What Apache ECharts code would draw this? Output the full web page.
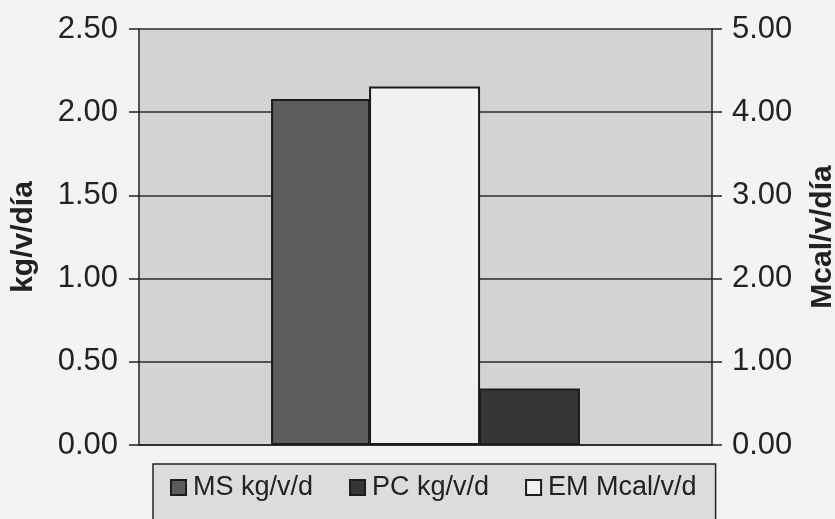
<!DOCTYPE html>
<html>
<head>
<meta charset="utf-8">
<script src="https://cdn.jsdelivr.net/npm/echarts@6/dist/echarts.min.js"></script>
<style>
  html, body { margin: 0; padding: 0; background: #f3f3f3; }
  #chart { width: 835px; height: 519px; }
</style>
</head>
<body>
<div id="chart"></div>
<script>
// Consumo diario por vaca
const categories = ['Consumo'];
const msKg = [2.08];      // materia seca, kg/v/d (eje izquierdo)
const emMcal = [4.31];    // energía metabolizable, Mcal/v/d (eje derecho)
const pcKg = [0.34];      // proteína cruda, kg/v/d (eje izquierdo)

const leftTicks = { min: 0, max: 2.5, interval: 0.5 };
const rightTicks = { min: 0, max: 5, interval: 1 };

const ink = '#222';
const chart = echarts.init(document.getElementById('chart'), null, { renderer: 'canvas' });

const tickLabel = {
  color: ink,
  fontFamily: 'Liberation Sans, Arial, sans-serif',
  fontSize: 31,
  formatter: v => v.toFixed(2)
};
const axisName = {
  color: ink,
  fontFamily: 'Liberation Sans, Arial, sans-serif',
  fontSize: 30,
  fontWeight: 'bold'
};

chart.setOption({
  backgroundColor: '#f3f3f3',
  animation: false,
  grid: {
    left: 139, top: 29, width: 573, height: 416,
    outerBoundsMode: 'none', containLabel: false,
    show: true, backgroundColor: '#d3d3d3', borderWidth: 0
  },
  legend: {
    data: ['MS kg/v/d', 'PC kg/v/d', 'EM Mcal/v/d'],
    left: 153, top: 464,
    padding: [10, 19, 40, 17],
    backgroundColor: '#dcdcdc',
    borderColor: ink, borderWidth: 1.5, borderRadius: 0,
    icon: 'rect', itemWidth: 15, itemHeight: 15, itemGap: 36,
    textStyle: { color: ink, fontFamily: 'Liberation Sans, Arial, sans-serif', fontSize: 27, padding: [0, 0, 0, 2] }
  },
  xAxis: {
    type: 'category',
    data: categories,
    axisLine: { show: true, lineStyle: { color: ink, width: 1.5 } },
    axisTick: { show: false },
    axisLabel: { show: false }
  },
  yAxis: [
    {
      type: 'value', position: 'left',
      min: leftTicks.min, max: leftTicks.max, interval: leftTicks.interval,
      name: 'kg/v/día', nameLocation: 'middle', nameRotate: 90, nameGap: 100,
      nameTextStyle: axisName,
      axisLine: { show: true, lineStyle: { color: ink, width: 1.5 } },
      axisTick: { show: true, length: 10, lineStyle: { color: ink, width: 1.5 } },
      axisLabel: Object.assign({ margin: 21 }, tickLabel),
      splitLine: { show: true, lineStyle: { color: '#2a2a2a', width: 1.5 } }
    },
    {
      type: 'value', position: 'right',
      min: rightTicks.min, max: rightTicks.max, interval: rightTicks.interval,
      name: 'Mcal/v/día', nameLocation: 'middle', nameRotate: 90, nameGap: 96,
      nameTextStyle: axisName,
      axisLine: { show: true, lineStyle: { color: ink, width: 1.5 } },
      axisTick: { show: true, length: 10, lineStyle: { color: ink, width: 1.5 } },
      axisLabel: Object.assign({ margin: 20 }, tickLabel),
      splitLine: { show: false }
    }
  ],
  series: [
    {
      name: 'MS kg/v/d', type: 'bar', yAxisIndex: 0, data: msKg,
      barWidth: 99, barGap: '-1%',
      itemStyle: { color: '#5c5c5c', borderColor: '#1c1c1c', borderWidth: 2 }
    },
    {
      name: 'EM Mcal/v/d', type: 'bar', yAxisIndex: 1, data: emMcal,
      barWidth: 111, barGap: '-1%',
      itemStyle: { color: '#f1f1f1', borderColor: '#1c1c1c', borderWidth: 2 }
    },
    {
      name: 'PC kg/v/d', type: 'bar', yAxisIndex: 0, data: pcKg,
      barWidth: 101, barGap: '-1%',
      itemStyle: { color: '#363636', borderColor: '#1c1c1c', borderWidth: 2 }
    }
  ]
});
</script>
</body>
</html>
